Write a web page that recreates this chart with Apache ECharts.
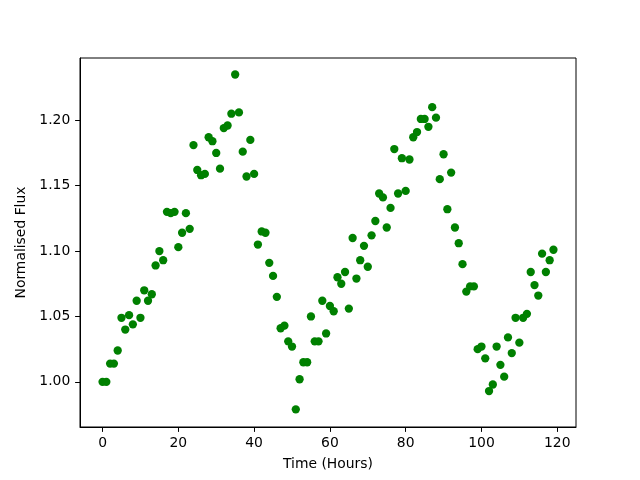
<!DOCTYPE html>
<html>
<head>
<meta charset="utf-8">
<script src="https://cdn.jsdelivr.net/npm/echarts@6/dist/echarts.min.js"></script>
<style>
  html, body { margin: 0; padding: 0; background: #fff; }
  #chart { width: 640px; height: 480px; }
</style>
</head>
<body>
<div id="chart"></div>
<script>
// hours 0..119, one reading per hour
var hours = [];
for (var i = 0; i < 120; i++) hours.push(i);

var flux = [
  1.000, 1.000, 1.014, 1.014, 1.024, 1.049, 1.040, 1.051, 1.044, 1.062,
  1.049, 1.070, 1.062, 1.067, 1.089, 1.100, 1.093, 1.130, 1.129, 1.130,
  1.103, 1.114, 1.129, 1.117, 1.181, 1.162, 1.158, 1.159, 1.187, 1.184,
  1.175, 1.163, 1.194, 1.196, 1.205, 1.235, 1.206, 1.176, 1.157, 1.185,
  1.159, 1.105, 1.115, 1.114, 1.091, 1.081, 1.065, 1.041, 1.043, 1.031,
  1.027, 0.979, 1.002, 1.015, 1.015, 1.050, 1.031, 1.031, 1.062, 1.037,
  1.058, 1.054, 1.080, 1.075, 1.084, 1.056, 1.110, 1.079, 1.093, 1.104,
  1.088, 1.112, 1.123, 1.144, 1.141, 1.118, 1.133, 1.178, 1.144, 1.171,
  1.146, 1.170, 1.187, 1.191, 1.201, 1.201, 1.195, 1.210, 1.202, 1.155,
  1.174, 1.132, 1.160, 1.118, 1.106, 1.090, 1.069, 1.073, 1.073, 1.025,
  1.027, 1.018, 0.993, 0.998, 1.027, 1.013, 1.004, 1.034, 1.022, 1.049,
  1.030, 1.049, 1.052, 1.084, 1.074, 1.066, 1.098, 1.084, 1.093, 1.101
];

var xTicks = [0, 20, 40, 60, 80, 100, 120];
var yTicks = [1.00, 1.05, 1.10, 1.15, 1.20];

var points = hours.map(function (h, i) { return [h, flux[i]]; });

var font = 'DejaVu Sans';
var myChart = echarts.init(document.getElementById('chart'), null, { renderer: 'canvas' });

var option = {
  animation: false,
  backgroundColor: '#ffffff',
  grid: {
    left: 80, right: 64, top: 58, bottom: 53,
    show: true, borderColor: '#000', borderWidth: 1, backgroundColor: 'transparent'
  },
  xAxis: {
    type: 'value',
    min: -5.95, max: 124.95,
    name: 'Time (Hours)',
    nameLocation: 'middle',
    nameGap: 30,
    nameTextStyle: { fontFamily: font, fontSize: 13.9, color: '#000' },
    splitLine: { show: false },
    axisLine: { show: true, onZero: false, lineStyle: { color: '#000', width: 1 } },
    axisTick: { show: true, length: 4.9, lineStyle: { color: '#000' }, customValues: xTicks },
    axisLabel: { margin: 9.7, fontFamily: font, fontSize: 13.9, color: '#000', customValues: xTicks }
  },
  yAxis: {
    type: 'value',
    min: 0.9655, max: 1.2476,
    name: 'Normalised Flux',
    nameLocation: 'middle',
    nameGap: 41,
    nameTextStyle: { fontFamily: font, fontSize: 13.9, color: '#000' },
    splitLine: { show: false },
    axisLine: { show: true, onZero: false, lineStyle: { color: '#000', width: 1 } },
    axisTick: { show: true, length: 4.9, lineStyle: { color: '#000' }, customValues: yTicks },
    axisLabel: {
      margin: 9.7, fontFamily: font, fontSize: 13.9, color: '#000', customValues: yTicks,
      formatter: function (v) { return v.toFixed(2); }
    }
  },
  series: [
    {
      type: 'scatter',
      data: points,
      symbol: 'circle',
      symbolSize: 8.3,
      itemStyle: { color: '#008000', opacity: 1 }
    }
  ]
};

if (option)
  myChart.setOption(option);
</script>
</body>
</html>
